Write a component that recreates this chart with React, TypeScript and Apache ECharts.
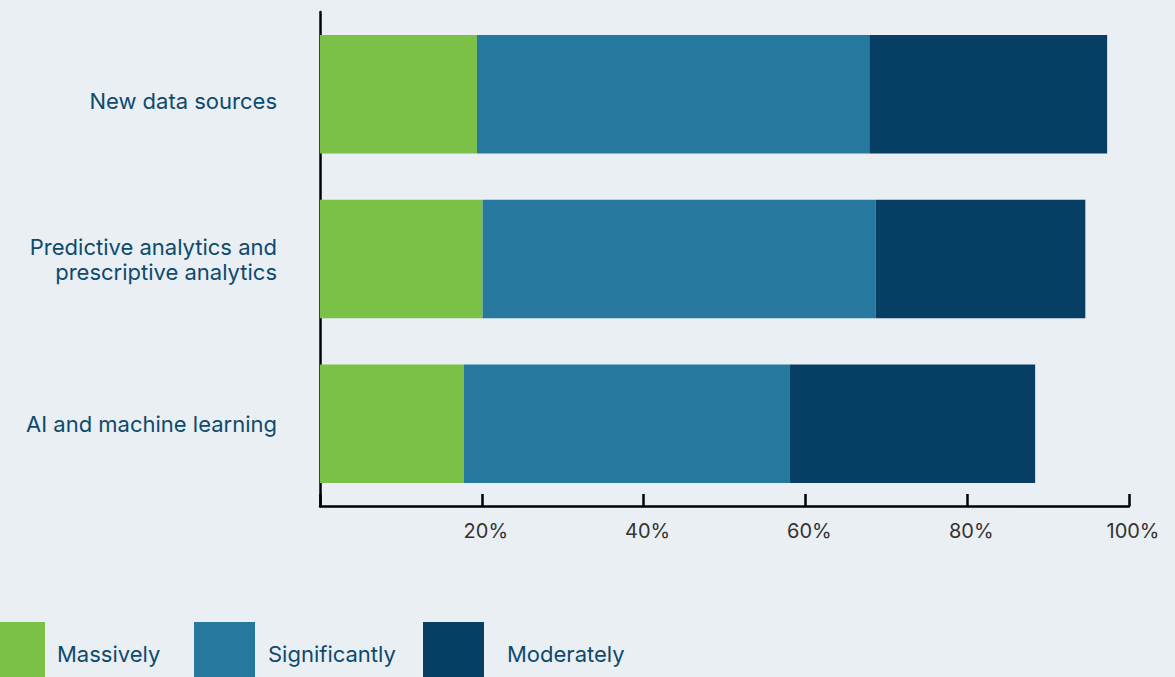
import React, { useEffect, useRef } from "react";
import * as echarts from "echarts";

const categories = [
  "New data sources",
  "Predictive analytics and\nprescriptive analytics",
  "AI and machine learning",
];
const seriesNames = ["Massively", "Significantly", "Moderately"];
const massively = [19.4, 20.1, 17.8];
const significantly = [48.5, 48.6, 40.3];
const moderately = [29.4, 25.9, 30.3];
const xTicks = [0, 20, 40, 60, 80, 100];

const colors = ["#7BC047", "#26789E", "#073F64"];
const textBlue = "#0D4A6E";
const bg = "#EAEFF4";
const font = "Inter";

export default function App() {
  const ref = useRef<HTMLDivElement>(null);
  useEffect(() => {
    const chart = echarts.init(ref.current!, null, { renderer: "svg" });
    const values = [massively, significantly, moderately];
    const legendX = [
      { rx: -17, w: 62, tx: 57 },
      { rx: 194, w: 61, tx: 268 },
      { rx: 423, w: 61, tx: 507 },
    ];
    chart.setOption({
      animation: false,
      backgroundColor: bg,
      grid: { left: 320, right: 46, top: 12, bottom: 171, containLabel: false },
      xAxis: {
        type: "value",
        min: xTicks[0],
        max: xTicks[xTicks.length - 1],
        interval: 20,
        axisLine: { show: true, lineStyle: { color: "#000", width: 2.5 } },
        axisTick: { show: true, inside: true, length: 12, lineStyle: { color: "#000", width: 2.5 } },
        splitLine: { show: false },
        axisLabel: {
          margin: 15,
          fontSize: 20,
          fontFamily: font,
          color: "#333333",
          padding: [0, 0, 0, 8],
          formatter: (v: number) => (v === 0 ? "" : v + "%"),
        },
      },
      yAxis: {
        type: "category",
        data: categories,
        inverse: true,
        axisLine: { show: true, lineStyle: { color: "#000", width: 2.5 } },
        axisTick: { show: false },
        axisLabel: {
          margin: 43,
          fontSize: 22,
          lineHeight: 25,
          fontFamily: font,
          color: textBlue,
          align: "right",
          formatter: (v: string, i: number) => (i === 0 ? "{low|" + v + "}" : v),
          rich: {
            low: {
              fontSize: 22,
              fontFamily: font,
              color: textBlue,
              padding: [13, 0, 0, 0],
            },
          },
        },
      },
      series: seriesNames.map((name, i) => ({
        name,
        type: "bar",
        stack: "total",
        data: values[i],
        barCategoryGap: "28%",
        itemStyle: { color: colors[i] },
      })),
      graphic: legendX.flatMap((l, i) => [
        {
          type: "rect",
          left: l.rx,
          top: 622,
          shape: { x: 0, y: 0, width: l.w, height: 62 },
          style: { fill: colors[i] },
        },
        {
          type: "text",
          left: l.tx,
          top: 643,
          style: {
            text: seriesNames[i],
            fill: textBlue,
            fontSize: 22,
            fontFamily: font,
          },
        },
      ]),
    });
    return () => chart.dispose();
  }, []);
  return (
    <div
      ref={ref}
      style={{ position: "absolute", left: 0, top: 0, width: 1175, height: 677 }}
    />
  );
}
